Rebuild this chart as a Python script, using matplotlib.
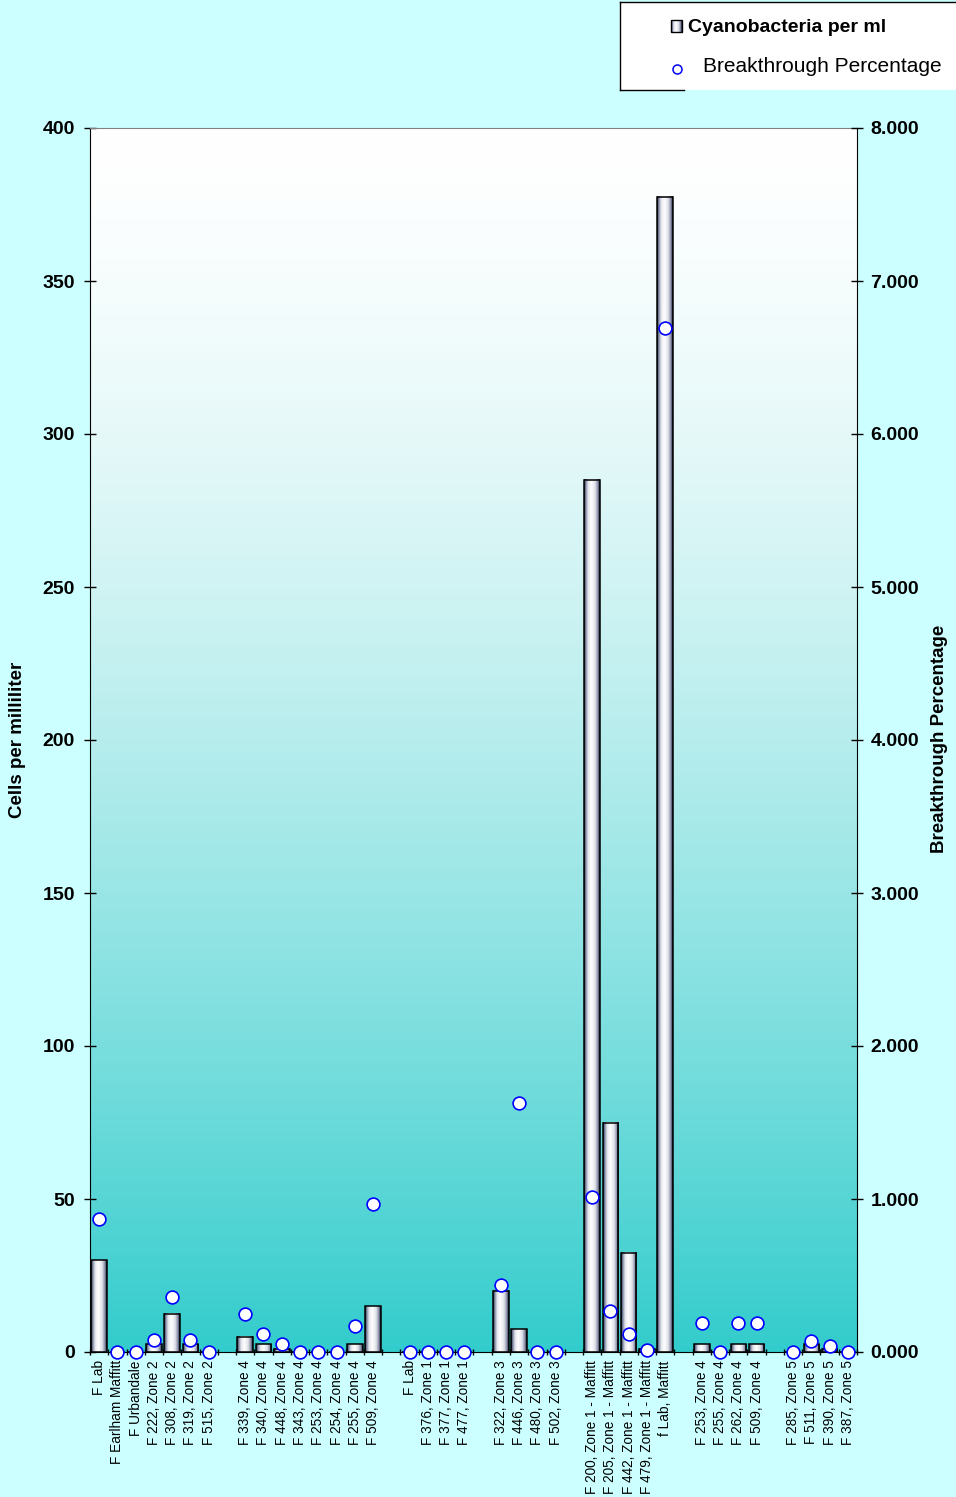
import matplotlib.pyplot as plt
import numpy as np
from matplotlib.colors import LinearSegmentedColormap
from matplotlib.lines import Line2D
from matplotlib.patches import Rectangle

plt.rcParams['font.family'] = ['Liberation Sans', 'DejaVu Sans']

# '' marks an empty spacer slot between sampling groups
labels = ['F Lab', 'F Earlham Maffitt', 'F Urbandale', 'F 222, Zone 2', 'F 308, Zone 2',
          'F 319, Zone 2', 'F 515, Zone 2', '',
          'F 339, Zone 4', 'F 340, Zone 4', 'F 448, Zone 4', 'F 343, Zone 4',
          'F 253, Zone 4', 'F 254, Zone 4', 'F 255, Zone 4', 'F 509, Zone 4', '',
          'F Lab', 'F 376, Zone 1', 'F 377, Zone 1', 'F 477, Zone 1', '',
          'F 322, Zone 3', 'F 446, Zone 3', 'F 480, Zone 3', 'F 502, Zone 3', '',
          'F 200, Zone 1 - Maffitt', 'F 205, Zone 1 - Maffitt', 'F 442, Zone 1 - Maffitt',
          'F 479, Zone 1 - Maffitt', 'f Lab, Maffitt', '',
          'F 253, Zone 4', 'F 255, Zone 4', 'F 262, Zone 4', 'F 509, Zone 4', '',
          'F 285, Zone 5', 'F 511, Zone 5', 'F 390, Zone 5', 'F 387, Zone 5']

cells = [30, 0, 0, 2.5, 12.5, 2.5, 0, None,
         5, 2.5, 1, 0, 0, 0, 2.5, 15, None,
         0, 0, 0, 0, None,
         20, 7.5, 0, 0, None,
         285, 75, 32.5, 1, 377.5, None,
         2.5, 0, 2.5, 2.5, None,
         0, 2.5, 1, 0]

breakthrough = [0.87, 0, 0, 0.08, 0.36, 0.08, 0, None,
                0.25, 0.12, 0.05, 0, 0, 0, 0.17, 0.97, None,
                0, 0, 0, 0, None,
                0.44, 1.63, 0, 0, None,
                1.01, 0.27, 0.12, 0.01, 6.69, None,
                0.19, 0, 0.19, 0.19, None,
                0, 0.07, 0.04, 0]

W, H = 956, 1497
fig = plt.figure(figsize=(W / 100, H / 100), dpi=100, facecolor='#CCFFFF')
ax = fig.add_axes([90 / W, 145 / H, 767 / W, 1224 / H])
ax.set_facecolor('none')

n = len(labels)
centers = np.arange(n) + 0.5

# plot area fill: white at the top fading to teal at the bottom
t = np.linspace(0, 1, 256) ** 1.5
top, bottom = np.array([1, 1, 1]), np.array([0x33, 0xCC, 0xCC]) / 255
grad = (top[None, :] * (1 - t[:, None]) + bottom[None, :] * t[:, None])[:, None, :]
ax.imshow(grad, extent=[0, 1, 0, 1], transform=ax.transAxes, aspect='auto',
          zorder=0, interpolation='bilinear')

# cylinder-like shading for the bars
bar_cmap = LinearSegmentedColormap.from_list('cyl', [
    (0.0, '#101830'), (0.1, '#7c84a0'), (0.25, '#e2e4ec'), (0.45, '#ffffff'),
    (0.7, '#e0e2ea'), (0.88, '#8a8ea8'), (1.0, '#101830')])
shade = np.linspace(0, 1, 64)[None, :]

bx = [c for c, v in zip(centers, cells) if v is not None]
bh = [v for v in cells if v is not None]
bars = ax.bar(bx, bh, width=0.85, color='none', edgecolor='black', linewidth=1.1, zorder=3)
for b in bars:
    if b.get_height() > 0:
        x0 = b.get_x()
        ax.imshow(shade, cmap=bar_cmap, extent=[x0, x0 + b.get_width(), 0, b.get_height()],
                  aspect='auto', zorder=2, interpolation='bilinear')

ax.set_xlim(0, n)
ax.set_ylim(0, 400)
ax.set_xticks(centers)
ax.set_xticklabels(labels, rotation=90, fontsize=9.8)
ax.set_xticks(np.arange(n + 1), minor=True)
ax.tick_params(axis='x', which='major', length=0, pad=6)
ax.tick_params(axis='x', which='minor', direction='inout', length=4, width=1)
ax.set_yticks(np.arange(0, 401, 50))
ax.set_yticklabels([str(v) for v in range(0, 401, 50)], fontsize=14, fontweight='bold')
ax.tick_params(axis='y', direction='inout', length=8.6, width=1, pad=6.5)
ax.spines['top'].set_color('#808080')
ax.spines['right'].set_visible(False)

ax2 = ax.twinx()
ax2.set_ylim(0, 8)
px = [c for c, v in zip(centers, breakthrough) if v is not None]
py = [v for v in breakthrough if v is not None]
ax2.plot(px, py, linestyle='none', marker='o', markersize=9.2, markerfacecolor='white',
         markeredgecolor='#0000FF', markeredgewidth=1.2, clip_on=False, zorder=5)
ax2.set_yticks(np.arange(0, 9))
ax2.set_yticklabels([f'{v:.3f}' for v in range(0, 9)], fontsize=14, fontweight='bold')
ax2.tick_params(axis='y', direction='inout', length=8.6, width=1, pad=5.5)
for s in ('top', 'left', 'bottom'):
    ax2.spines[s].set_visible(False)
ax2.spines['right'].set_color('black')

fig.text(18 / W, 1 - 740 / H, 'Cells per milliliter', rotation=90, fontsize=13.5,
         fontweight='bold', ha='center', va='center')
fig.text(940 / W, 1 - 739 / H, 'Breakthrough Percentage', rotation=90, fontsize=13.5,
         fontweight='bold', ha='center', va='center')

# legend box in pixel coordinates
lax = fig.add_axes([0, 0, 1, 1], zorder=10)
lax.set_xlim(0, W)
lax.set_ylim(H, 0)
lax.axis('off')
lax.add_patch(Rectangle((620, 2), 340, 88, facecolor='white', edgecolor='none', zorder=1))
lax.add_line(Line2D([620, 620], [2, 90], color='black', lw=1))
lax.add_line(Line2D([620, W], [2, 2], color='black', lw=1))
lax.add_line(Line2D([620, 684], [90, 90], color='black', lw=1))
lax.imshow(shade, cmap=bar_cmap, extent=[671, 682, 32, 20], aspect='auto',
           interpolation='bilinear', zorder=2)
lax.add_patch(Rectangle((671, 20), 11, 12, facecolor='none', edgecolor='black', lw=1, zorder=3))
lax.text(688, 27, 'Cyanobacteria per ml', fontsize=14, fontweight='bold', va='center', ha='left')
lax.plot([677], [69], marker='o', markersize=6.5, markerfacecolor='white',
         markeredgecolor='#0000FF', markeredgewidth=1.1, linestyle='none', zorder=3)
lax.text(703, 66, 'Breakthrough Percentage', fontsize=15, va='center', ha='left')
lax.set_xlim(0, W)
lax.set_ylim(H, 0)

fig.savefig('out.png', dpi=100, facecolor=fig.get_facecolor())
